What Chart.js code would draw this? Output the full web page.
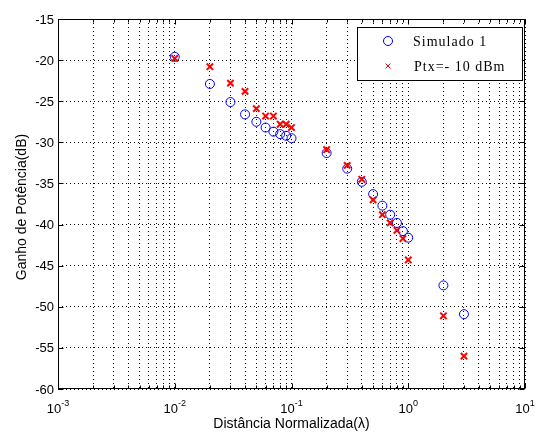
<!DOCTYPE html>
<html>
<head>
<meta charset="utf-8">
<script src="https://cdn.jsdelivr.net/npm/chart.js@4.4.0/dist/chart.umd.min.js"></script>
<style>
  html, body { margin: 0; padding: 0; background: #fff; }
  #wrap { width: 537px; height: 432px; }
</style>
</head>
<body>
<div id="wrap"><canvas id="ganhoChart" width="537" height="432"></canvas></div>
<script>
// distancia normalizada (em lambdas) e ganho medido em cada ponto
const distancias = [0.01, 0.02, 0.03, 0.04, 0.05, 0.06, 0.07, 0.08, 0.09, 0.1,
                    0.2, 0.3, 0.4, 0.5, 0.6, 0.7, 0.8, 0.9, 1, 2, 3];
const simulado1 = [-19.6, -22.9, -25.1, -26.6, -27.5, -28.2, -28.7, -29.0, -29.2, -29.5,
                   -31.3, -33.2, -34.8, -36.3, -37.7, -38.8, -39.8, -40.8, -41.6, -47.4, -50.9];
const ptx10 = [-19.8, -20.8, -22.8, -23.8, -25.9, -26.8, -26.8, -27.8, -27.8, -28.2,
               -30.9, -32.8, -34.5, -37.0, -38.8, -39.8, -40.7, -41.7, -44.3, -51.1, -56.0];
const decadas = [-3, -2, -1, 0, 1];
const yTicks = [-60, -55, -50, -45, -40, -35, -30, -25, -20, -15];
const nomes = ['Simulado 1', 'Ptx=- 10 dBm'];

const sansFont = '"Liberation Sans", Arial, sans-serif';
const serifFont = '"Liberation Serif", "Times New Roman", serif';

function pares(xs, ys) {
  return xs.map((x, i) => ({ x: x, y: ys[i] }));
}

// ticks do eixo log: decadas + 2..9 de cada decada
function logTicks() {
  const out = [];
  for (let d = decadas[0]; d <= decadas[decadas.length - 1]; d++) {
    const lim = d === decadas[decadas.length - 1] ? 1 : 9;
    for (let m = 1; m <= lim; m++) {
      out.push({ value: Number((m * Math.pow(10, d)).toPrecision(6)), major: m === 1 });
    }
  }
  return out;
}

const moldura = {
  id: 'moldura',
  afterDraw(chart) {
    const ctx = chart.ctx;
    const a = chart.chartArea;
    const xs = chart.scales.x, ys = chart.scales.y;
    ctx.save();
    ctx.strokeStyle = '#000';
    ctx.fillStyle = '#000';
    ctx.lineWidth = 1;

    // caixa dos eixos
    const L = Math.round(a.left) + 0.5, R = Math.round(a.right) - 0.5;
    const T = Math.round(a.top) + 0.5, B = Math.round(a.bottom) - 0.5;
    ctx.strokeRect(L, T, R - L, B - T);

    // ticks para dentro
    ctx.beginPath();
    xs.ticks.forEach(t => {
      const px = Math.round(xs.getPixelForValue(t.value)) + 0.5;
      const len = t.major ? 5 : 3;
      ctx.moveTo(px, B); ctx.lineTo(px, B - len);
      ctx.moveTo(px, T); ctx.lineTo(px, T + len);
    });
    yTicks.forEach(v => {
      const py = Math.round(ys.getPixelForValue(v)) + 0.5;
      ctx.moveTo(L, py); ctx.lineTo(L + 5, py);
      ctx.moveTo(R, py); ctx.lineTo(R - 5, py);
    });
    ctx.stroke();

    // rotulos do eixo y
    ctx.font = '13px ' + sansFont;
    ctx.textAlign = 'right';
    ctx.textBaseline = 'middle';
    yTicks.forEach(v => {
      ctx.fillText(String(v), a.left - 4, ys.getPixelForValue(v) + 1);
    });

    // rotulos do eixo x: 10 com expoente
    ctx.textBaseline = 'alphabetic';
    decadas.forEach(d => {
      const px = xs.getPixelForValue(Math.pow(10, d));
      ctx.font = '13px ' + sansFont;
      const wb = ctx.measureText('10').width;
      ctx.font = '9px ' + sansFont;
      const exp = String(d);
      const we = ctx.measureText(exp).width;
      const x0 = px - (wb + we) / 2;
      ctx.textAlign = 'left';
      ctx.font = '13px ' + sansFont;
      ctx.fillText('10', x0, 413);
      ctx.font = '9px ' + sansFont;
      ctx.fillText(exp, x0 + wb, 406);
    });

    // titulos dos eixos
    ctx.font = '14px ' + sansFont;
    ctx.textAlign = 'center';
    ctx.fillText('Distância Normalizada(λ)', (a.left + a.right) / 2, 428);
    ctx.save();
    ctx.translate(26, (a.top + a.bottom) / 2 + 3);
    ctx.rotate(-Math.PI / 2);
    ctx.fillText('Ganho de Potência(dB)', 0, 0);
    ctx.restore();

    // legenda
    const lx = 357.5, ly = 27.5, lw = 165, lh = 53;
    ctx.fillStyle = '#fff';
    ctx.fillRect(lx, ly, lw, lh);
    ctx.strokeStyle = '#000';
    ctx.strokeRect(lx, ly, lw, lh);

    ctx.strokeStyle = '#0000ff';
    ctx.beginPath();
    ctx.arc(388, 41, 4.5, 0, Math.PI * 2);
    ctx.stroke();

    ctx.strokeStyle = '#ff0000';
    ctx.beginPath();
    ctx.moveTo(385.5, 63.5); ctx.lineTo(390.5, 68.5);
    ctx.moveTo(390.5, 63.5); ctx.lineTo(385.5, 68.5);
    ctx.stroke();

    ctx.fillStyle = '#000';
    ctx.font = '14px ' + serifFont;
    ctx.letterSpacing = '1px';
    ctx.textAlign = 'left';
    ctx.textBaseline = 'middle';
    ctx.fillText(nomes[0], 413, 42);
    ctx.fillText(nomes[1], 414, 67);
    ctx.restore();
  }
};

const ctx = document.getElementById('ganhoChart').getContext('2d');
new Chart(ctx, {
  type: 'scatter',
  data: {
    datasets: [
      {
        label: nomes[0],
        data: pares(distancias, simulado1),
        pointStyle: 'circle',
        pointRadius: 4.5,
        borderColor: '#0000ff',
        backgroundColor: 'rgba(0,0,0,0)',
        borderWidth: 1,
        order: 1
      },
      {
        label: nomes[1],
        data: pares(distancias, ptx10),
        pointStyle: 'crossRot',
        pointRadius: 4.5,
        borderColor: '#ff0000',
        backgroundColor: '#ff0000',
        borderWidth: 2,
        order: 0
      }
    ]
  },
  options: {
    responsive: false,
    animation: false,
    layout: { padding: { top: 19, right: 12, left: 0, bottom: 0 } },
    plugins: {
      legend: { display: false },
      tooltip: { enabled: false }
    },
    scales: {
      x: {
        type: 'logarithmic',
        min: 1e-3,
        max: 10,
        afterBuildTicks: scale => { scale.ticks = logTicks(); },
        afterFit: scale => { scale.height = 43; },
        ticks: { display: false },
        grid: { color: '#000', drawTicks: false, lineWidth: 1 },
        border: { display: false, dash: [1, 3] }
      },
      y: {
        min: -60,
        max: -15,
        afterBuildTicks: scale => { scale.ticks = yTicks.map(v => ({ value: v })); },
        afterFit: scale => { scale.width = 58; },
        ticks: { display: false },
        grid: { color: '#000', drawTicks: false, lineWidth: 1 },
        border: { display: false, dash: [1, 3] }
      }
    }
  },
  plugins: [moldura]
});
</script>
</body>
</html>
